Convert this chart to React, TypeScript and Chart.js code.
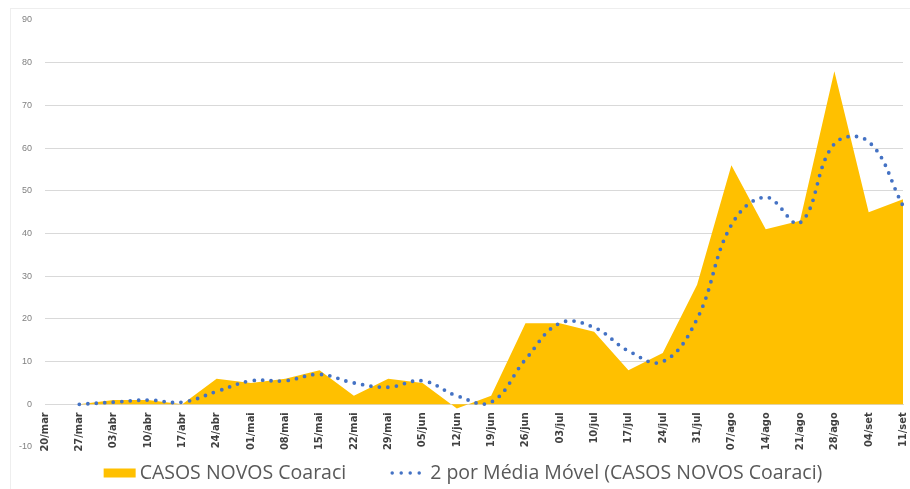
import React, { useEffect, useRef } from "react";
import { Chart, registerables } from "chart.js";

Chart.register(...registerables);

const categories = [
  "20/mar", "27/mar", "03/abr", "10/abr", "17/abr", "24/abr", "01/mai", "08/mai", "15/mai",
  "22/mai", "29/mai", "05/jun", "12/jun", "19/jun", "26/jun", "03/jul", "10/jul", "17/jul",
  "24/jul", "31/jul", "07/ago", "14/ago", "21/ago", "28/ago", "04/set", "11/set",
];

const casosNovos = [
  0, 0, 1, 1, 0, 6, 5, 6, 8, 2, 6, 5, -1, 2, 19, 19, 17, 8, 12, 28, 56, 41, 43, 78, 45, 48,
];

const mediaMovel = [
  null, 0, 0.5, 1, 0.5, 3, 5.5, 5.5, 7, 5, 4, 5.5, 2, 0.5, 10.5, 19, 18, 12.5, 10, 20, 42,
  48.5, 42.5, 61, 61.5, 46.5,
];

const seriesLabels = ["CASOS NOVOS Coaraci", "2 por Média Móvel (CASOS NOVOS Coaraci)"];

const yMin = -10;
const yMax = 90;
const yStep = 10;

const AREA_COLOR = "#FFC000";
const LINE_COLOR = "#4472C4";

const legendPlugin = {
  id: "customLegend",
  afterDraw(chart: any) {
    const ctx = chart.ctx as CanvasRenderingContext2D;
    ctx.save();
    ctx.font = '19.5px "Open Sans", sans-serif';
    ctx.textBaseline = "middle";
    const y = 473;
    const boxW = 32;
    const boxH = 9;
    const gapBoxText = 4;
    const gapItems = 44;
    const dotsW = 31;
    const gapDotsText = 9;
    const t1 = ctx.measureText(seriesLabels[0]).width;
    const t2 = ctx.measureText(seriesLabels[1]).width;
    const total = boxW + gapBoxText + t1 + gapItems + dotsW + gapDotsText + t2;
    let x = chart.width / 2 + 8 - total / 2;
    ctx.fillStyle = AREA_COLOR;
    ctx.fillRect(x, y - boxH / 2, boxW, boxH);
    x += boxW + gapBoxText;
    ctx.fillStyle = "#595959";
    ctx.fillText(seriesLabels[0], x, y);
    x += t1 + gapItems;
    ctx.strokeStyle = LINE_COLOR;
    ctx.lineWidth = 3.5;
    ctx.lineCap = "round";
    ctx.setLineDash([0, 9]);
    ctx.beginPath();
    ctx.moveTo(x + 2, y);
    ctx.lineTo(x + dotsW, y);
    ctx.stroke();
    ctx.setLineDash([]);
    x += dotsW + gapDotsText;
    ctx.fillStyle = "#595959";
    ctx.fillText(seriesLabels[1], x, y);
    ctx.restore();
  },
};

export default function App() {
  const canvasRef = useRef<HTMLCanvasElement | null>(null);

  useEffect(() => {
    if (!canvasRef.current) return;
    const chart = new Chart(canvasRef.current, {
      type: "line",
      data: {
        labels: categories,
        datasets: [
          {
            label: seriesLabels[0],
            data: casosNovos,
            backgroundColor: AREA_COLOR,
            borderColor: AREA_COLOR,
            borderWidth: 0,
            fill: "origin",
            pointRadius: 0,
            tension: 0,
            order: 2,
          },
          {
            label: seriesLabels[1],
            data: mediaMovel,
            borderColor: LINE_COLOR,
            backgroundColor: LINE_COLOR,
            borderWidth: 3.8,
            borderDash: [0, 8.5],
            borderCapStyle: "round",
            fill: false,
            pointRadius: 0,
            tension: 0.4,
            order: 1,
          },
        ],
      },
      options: {
        animation: false,
        responsive: false,
        layout: { padding: { left: 0, right: 7, top: 20, bottom: 42 } },
        plugins: {
          legend: { display: false },
          tooltip: { enabled: false },
        },
        scales: {
          x: {
            position: { y: 0 } as any,
            afterFit: (scale: any) => {
              scale.paddingLeft = 0;
              scale.paddingRight = 0;
            },
            grid: { display: false, drawTicks: false },
            border: { display: true, color: "#d9d9d9" },
            ticks: {
              autoSkip: false,
              minRotation: 90,
              maxRotation: 90,
              padding: 8,
              color: "#404040",
              font: {
                family: '"Liberation Sans Narrow", "DejaVu Sans Condensed", sans-serif',
                size: 11,
                weight: "bold",
              },
            },
          },
          y: {
            min: yMin,
            max: yMax,
            afterFit: (scale: any) => {
              scale.width = 45;
            },
            border: { display: false },
            grid: {
              drawTicks: false,
              color: (ctx: any) =>
                ctx.tick && (ctx.tick.value === yMax || ctx.tick.value === yMin) ? "rgba(0,0,0,0)" : "#d9d9d9",
            },
            ticks: {
              stepSize: yStep,
              padding: 13,
              color: "#808080",
              font: { family: '"Liberation Sans", sans-serif', size: 9 },
            },
          },
        },
      },
      plugins: [legendPlugin],
    });
    return () => chart.destroy();
  }, []);

  return (
    <div style={{ position: "fixed", left: 0, top: 0, width: 910, height: 489, background: "#fff" }}>
      <div
        style={{
          position: "absolute",
          left: 10,
          top: 8,
          right: 0,
          bottom: 0,
          borderLeft: "1px solid #eeeeee",
          borderTop: "1px solid #eeeeee",
        }}
      />
      <canvas ref={canvasRef} width={910} height={489} style={{ position: "absolute", left: 0, top: 0 }} />
    </div>
  );
}
